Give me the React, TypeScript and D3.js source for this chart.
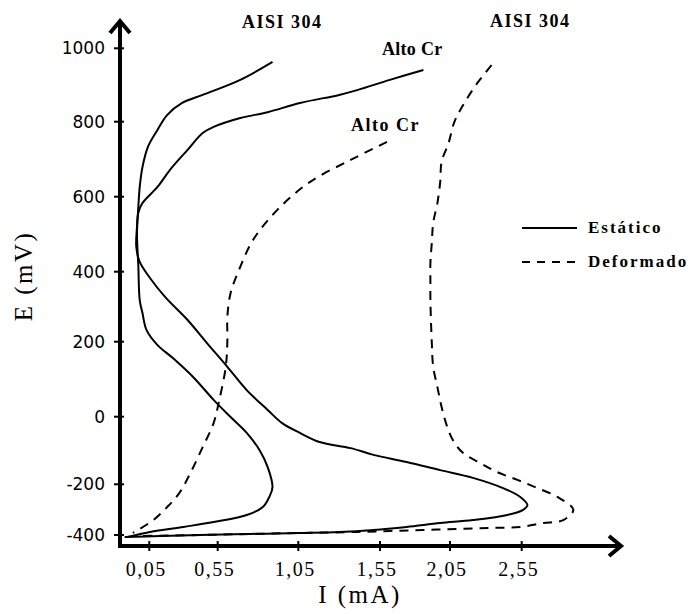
import * as d3 from 'd3';
import { useRef, useEffect } from 'react';

// --- axis ticks (the original axes are hand-spaced, so scales are piecewise) ---
const xTicks = [0.05, 0.55, 1.05, 1.55, 2.05, 2.55];
const yTicks = [-400, -200, 0, 200, 400, 600, 800, 1000];

// --- curves: [I (mA), E (mV)] ---
const estaticoAisi: [number, number][] = [
  [0.89, 963], [0.69, 914], [0.44, 873], [0.29, 851], [0.18, 818], [0.11, 778],
  [0.04, 733], [0.0, 679], [-0.02, 626], [-0.03, 573], [-0.04, 503], [-0.03, 413],
  [-0.02, 319], [0.0, 282], [0.03, 233], [0.11, 191], [0.22, 157], [0.37, 106],
  [0.52, 45], [0.63, -1], [0.73, -48], [0.81, -99], [0.86, -149], [0.89, -211],
  [0.87, -250], [0.83, -290], [0.73, -321], [0.52, -349], [0.3, -368], [0.055, -388],
  [-0.11, -408],
];

const estaticoAltoCr: [number, number][] = [
  [1.86, 941], [1.62, 914], [1.41, 886], [1.3, 873], [1.06, 851], [0.86, 826],
  [0.69, 810], [0.52, 786], [0.44, 770], [0.33, 725], [0.2, 671], [0.11, 626],
  [0.0, 583], [-0.03, 557], [-0.04, 519], [-0.045, 466], [-0.02, 426], [0.055, 382],
  [0.165, 328], [0.33, 262], [0.47, 197], [0.61, 133], [0.73, 71],
  [0.86, 18], [0.95, -19], [1.06, -48], [1.18, -75], [1.37, -93], [1.51, -113],
  [1.74, -134], [1.98, -158], [2.21, -181], [2.42, -215], [2.54, -250], [2.59, -282],
  [2.56, -301], [2.45, -321], [2.21, -341], [1.98, -353], [1.74, -368], [1.51, -380],
  [1.3, -388], [1.06, -392], [0.75, -396], [0.42, -400], [0.13, -404], [-0.13, -408],
];

const deformadoAltoCr: [number, number][] = [
  [1.6, 746], [1.37, 698], [1.12, 639], [0.92, 565], [0.77, 485], [0.69, 413],
  [0.63, 339], [0.61, 271], [0.61, 205], [0.6, 133], [0.56, 45], [0.52, -19],
  [0.44, -90], [0.35, -167], [0.27, -234], [0.18, -290], [0.08, -341], [-0.07, -392],
];

const deformadoAisi: [number, number][] = [
  [2.34, 954], [2.24, 905], [2.15, 851], [2.08, 799], [2.04, 743], [1.99, 693],
  [1.98, 639], [1.96, 583], [1.93, 530], [1.92, 477], [1.91, 423], [1.91, 368],
  [1.91, 319], [1.92, 197], [1.93, 133], [1.96, 79], [1.99, 26], [2.03, -30],
  [2.07, -69], [2.14, -107], [2.26, -137], [2.38, -164], [2.52, -187], [2.66, -215],
  [2.8, -250], [2.91, -301], [2.84, -341], [2.7, -353], [2.54, -368], [2.33, -372],
  [2.1, -376], [1.86, -380], [1.62, -384], [1.41, -388], [1.06, -392], [0.75, -396],
  [0.42, -400], [-0.02, -404],
];

const curveLabels = [
  { text: "AISI 304", at: [0.95, 1055] },
  { text: "AISI 304", at: [2.61, 1058] },
  { text: "Alto Cr", at: [1.78, 982] },
  { text: "Alto Cr", at: [1.59, 775] },
];

const legendItems = ["Estático", "Deformado"];

export default function App() {
  const ref = useRef<SVGSVGElement>(null);

  useEffect(() => {
    const width = 694;
    const height = 614;

    const x = d3.scaleLinear()
      .domain(xTicks)
      .range([149.3, 217.7, 298.3, 380, 450, 521.7]);
    const y = d3.scaleLinear()
      .domain(yTicks)
      .range([535, 484.3, 416.7, 341.7, 271.7, 196.7, 121.7, 48.3]);

    const axisX = 120;   // y axis position
    const axisY = 546;   // x axis position

    const svg = d3.select(ref.current)
      .attr("width", width)
      .attr("height", height)
      .attr("viewBox", `0 0 ${width} ${height}`);

    svg.selectAll("*").remove();

    svg.append("rect").attr("width", width).attr("height", height).attr("fill", "#fff");

    // --- axes ---
    const ax = svg.append("g").attr("stroke", "#000").attr("fill", "none");
    ax.append("line")
      .attr("x1", axisX).attr("x2", axisX)
      .attr("y1", axisY + 2).attr("y2", 22)
      .attr("stroke-width", 4);
    ax.append("path")
      .attr("d", `M${axisX - 10},${33} L${axisX},${21} L${axisX + 10},${33}`)
      .attr("stroke-width", 4)
      .attr("stroke-linejoin", "miter");
    ax.append("line")
      .attr("x1", axisX - 2).attr("x2", 620)
      .attr("y1", axisY).attr("y2", axisY)
      .attr("stroke-width", 4);
    ax.append("path")
      .attr("d", `M${609},${axisY - 10} L${621},${axisY} L${609},${axisY + 10}`)
      .attr("stroke-width", 4);

    // y ticks
    ax.selectAll(".yt")
      .data(yTicks)
      .join("line")
      .attr("x1", axisX - 6).attr("x2", axisX + 4)
      .attr("y1", d => y(d)).attr("y2", d => y(d))
      .attr("stroke-width", 2);

    svg.append("g")
      .selectAll("text")
      .data(yTicks)
      .join("text")
      .attr("x", 105)
      .attr("y", d => y(d) + 6)
      .attr("text-anchor", "end")
      .attr("font-family", "'DejaVu Sans', sans-serif")
      .attr("font-size", 17)
      .text(d => String(d));

    // x ticks
    ax.selectAll(".xt")
      .data(xTicks)
      .join("line")
      .attr("x1", d => x(d)).attr("x2", d => x(d))
      .attr("y1", axisY - 5).attr("y2", axisY + 5)
      .attr("stroke-width", 2);

    svg.append("g")
      .selectAll("text")
      .data(xTicks)
      .join("text")
      .attr("x", d => x(d) - 3)
      .attr("y", 576)
      .attr("text-anchor", "middle")
      .attr("font-family", "'Liberation Serif', serif")
      .attr("font-size", 20)
      .attr("letter-spacing", 1.5)
      .text(d => d.toFixed(2).replace(".", ","));

    // axis titles
    svg.append("text")
      .attr("x", 360).attr("y", 603)
      .attr("text-anchor", "middle")
      .attr("font-family", "'Liberation Serif', serif")
      .attr("font-size", 25)
      .attr("letter-spacing", 2.5)
      .text("I (mA)");

    svg.append("text")
      .attr("transform", "translate(32,276) rotate(-90)")
      .attr("text-anchor", "middle")
      .attr("font-family", "'Liberation Serif', serif")
      .attr("font-size", 25)
      .attr("letter-spacing", 2.5)
      .text("E (mV)");

    // --- curves ---
    const line = d3.line<[number, number]>()
      .x(d => x(d[0]))
      .y(d => y(d[1]))
      .curve(d3.curveCatmullRom.alpha(0.5));

    const curves = [
      { data: estaticoAisi, dash: null },
      { data: estaticoAltoCr, dash: null },
      { data: deformadoAltoCr, dash: "9,7" },
      { data: deformadoAisi, dash: "9,7" },
    ];

    svg.append("g")
      .selectAll("path")
      .data(curves)
      .join("path")
      .attr("d", d => line(d.data))
      .attr("fill", "none")
      .attr("stroke", "#000")
      .attr("stroke-width", 2)
      .attr("stroke-dasharray", d => d.dash);

    // curve labels
    svg.append("g")
      .selectAll("text")
      .data(curveLabels)
      .join("text")
      .attr("x", d => x(d.at[0]))
      .attr("y", d => y(d.at[1]))
      .attr("text-anchor", "middle")
      .attr("font-family", "'Liberation Serif', serif")
      .attr("font-weight", "bold")
      .attr("font-size", 18)
      .attr("letter-spacing", (d, i) => (i < 2 ? 1.5 : i === 3 ? 1.5 : 0.3))
      .text(d => d.text);

    // --- legend ---
    const lg = svg.append("g").attr("transform", "translate(522,228)");
    legendItems.forEach((name, i) => {
      const row = lg.append("g").attr("transform", `translate(0,${i * 34})`);
      row.append("line")
        .attr("x1", 0).attr("x2", 55)
        .attr("stroke", "#000")
        .attr("stroke-width", 2)
        .attr("stroke-dasharray", i === 1 ? "8,7" : null);
      row.append("text")
        .attr("x", 66).attr("y", 5)
        .attr("font-family", "'Liberation Serif', serif")
        .attr("font-weight", "bold")
        .attr("font-size", 17)
        .attr("letter-spacing", 2)
        .text(name);
    });
  }, []);

  return (
    <div style={{ position: "absolute", left: 0, top: 0 }}>
      <svg ref={ref} style={{ display: "block" }}></svg>
    </div>
  );
}
